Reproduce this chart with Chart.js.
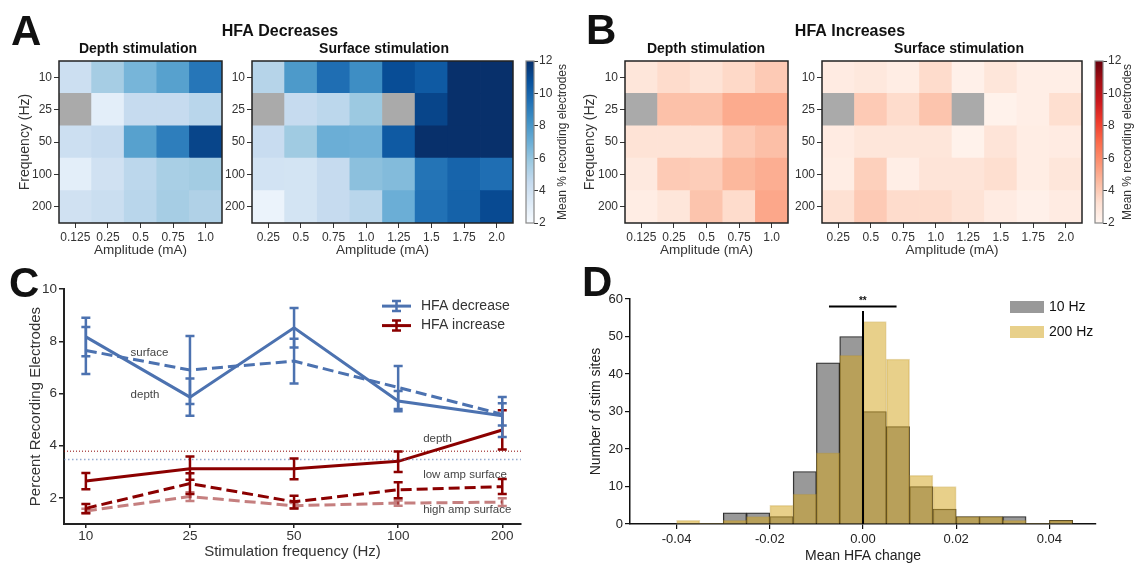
<!DOCTYPE html>
<html>
<head>
<meta charset="utf-8">
<script src="https://cdn.jsdelivr.net/npm/chart.js@4.4.0/dist/chart.umd.min.js"></script>
<style>
html, body { margin: 0; padding: 0; background: #fff; overflow: hidden; }
#fig { position: relative; width: 1135px; height: 565px; }
#fig canvas { position: absolute; }
</style>
</head>
<body>
<div id="fig"><canvas id="texts" width="1135" height="565" style="left:0;top:0"></canvas></div>
<script>
// ---- heatmaps (rows = frequency, cols = amplitude), null = no data
const freqs = ['10', '25', '50', '100', '200'];
const depthAmps = ['0.125', '0.25', '0.5', '0.75', '1.0'];
const surfAmps = ['0.25', '0.5', '0.75', '1.0', '1.25', '1.5', '1.75', '2.0'];

const decDepth = [
    [4.2, 5.5, 6.7, 7.6, 9.3],
    [null, 3.0, 4.5, 4.5, 4.9],
    [4.2, 4.5, 7.6, 9.0, 11.2],
    [3.0, 4.0, 4.8, 5.4, 5.6],
    [4.0, 4.3, 4.9, 5.5, 5.2]
];
const decSurf = [
    [5.0, 7.9, 9.6, 8.4, 10.9, 10.4, 12, 12],
    [null, 4.5, 4.8, 5.8, null, 11.2, 12, 12],
    [4.4, 5.7, 7.0, 6.9, 10.4, 12, 12, 12],
    [3.9, 3.8, 4.5, 6.2, 6.4, 9.4, 10.0, 9.6],
    [2.6, 3.8, 4.5, 4.9, 7.0, 9.5, 10.1, 11.0]
];
const incDepth = [
    [2.9, 3.4, 3.1, 3.5, 4.0],
    [null, 4.3, 4.3, 5.0, 5.0],
    [3.1, 3.1, 3.1, 4.0, 4.35],
    [2.7, 4.0, 3.9, 4.6, 4.9],
    [2.5, 2.9, 4.2, 3.4, 5.1]
];
const incSurf = [
    [2.6, 2.8, 2.5, 3.4, 2.3, 2.9, 2.4, 2.4],
    [null, 4.0, 3.4, 4.2, null, 2.2, 2.4, 3.3],
    [2.6, 2.9, 2.9, 2.9, 2.2, 3.0, 2.5, 2.6],
    [2.5, 3.8, 2.4, 3.0, 3.0, 3.3, 2.5, 2.9],
    [3.2, 4.0, 3.4, 3.4, 3.1, 2.6, 2.3, 2.6]
];
const cbMin = 2, cbMax = 12;
const cbTicks = [2, 4, 6, 8, 10, 12];

// ---- panel C: percent recording electrodes vs stim frequency
const freqTicks = ['10', '25', '50', '100', '200'];
const decDepthMean = [8.17, 5.86, 8.52, 5.71, 5.15];
const decDepthLo = [7.43, 5.15, 7.76, 5.32, 4.33];
const decDepthHi = [8.90, 6.57, 9.28, 6.10, 5.87];
const decSurfMean = [7.65, 6.90, 7.24, 6.23, 5.20];
const decSurfLo = [6.75, 5.60, 6.38, 5.41, 4.77];
const decSurfHi = [8.55, 8.20, 8.10, 7.05, 5.63];
const incDepthMean = [2.65, 3.12, 3.12, 3.40, 4.60];
const incDepthLo = [2.33, 2.70, 2.71, 2.99, 3.85];
const incDepthHi = [2.95, 3.59, 3.51, 3.78, 5.36];
const incLowMean = [1.60, 2.55, 1.85, 2.31, 2.43];
const incLowLo = [1.41, 2.15, 1.59, 1.99, 2.15];
const incLowHi = [1.77, 2.94, 2.08, 2.60, 2.72];
const incHighMean = [1.50, 2.05, 1.70, 1.80, 1.84];
const incHighLo = [1.42, 1.88, 1.60, 1.70, 1.69];
const incHighHi = [1.58, 2.22, 1.80, 1.90, 1.99];
const incBaseline = 3.79;
const decBaseline = 3.47;
const cYTicks = [2, 4, 6, 8, 10];

// ---- panel D: histogram of mean HFA change
const binLeft = [-0.04, -0.035, -0.03, -0.025, -0.02, -0.015, -0.01, -0.005, 0, 0.005, 0.01, 0.015, 0.02, 0.025, 0.03, 0.035, 0.04];
const binWidth = 0.005;
const count10 = [0, 0, 3, 3, 2, 14, 43, 50, 30, 26, 10, 4, 2, 2, 2, 0, 1];
const count200 = [1, 0, 1, 2, 5, 8, 19, 45, 54, 44, 13, 10, 2, 2, 1, 0, 1];
const dXTicks = [-0.04, -0.02, 0, 0.02, 0.04];
const dXLabels = ['-0.04', '-0.02', '0.00', '0.02', '0.04'];
const dYTicks = [0, 10, 20, 30, 40, 50, 60];
const zeroLineTop = 56.8;
const sigFrom = -0.0073, sigTo = 0.0072, sigY = 58;

const FONT = "'Liberation Sans', Arial, sans-serif";
Chart.defaults.font.family = FONT;
Chart.defaults.color = '#333';
Chart.defaults.animation = false;
Chart.defaults.plugins.legend.display = false;
Chart.defaults.plugins.tooltip.enabled = false;

const BLUES = [[247,251,255],[222,235,247],[198,219,239],[158,202,225],[107,174,214],[66,146,198],[33,113,181],[8,81,156],[8,48,107]];
const REDS = [[255,245,240],[254,224,210],[252,187,161],[252,146,114],[251,106,74],[239,59,44],[203,24,29],[165,15,21],[103,0,13]];
const NAN_COLOR = '#aaaaaa';

function cmapColor(stops, v) {
    const t = Math.min(1, Math.max(0, (v - cbMin) / (cbMax - cbMin))) * (stops.length - 1);
    const i = Math.min(Math.floor(t), stops.length - 2);
    const f = t - i;
    const c = stops[i].map((a, k) => Math.round(a + (stops[i + 1][k] - a) * f));
    return `rgb(${c.join(',')})`;
}

const fig = document.getElementById('fig');
function makeCanvas(left, top, w, h) {
    const c = document.createElement('canvas');
    c.width = w; c.height = h;
    c.style.left = left + 'px'; c.style.top = top + 'px';
    fig.appendChild(c);
    return c;
}

function framePlugin(color, width) {
    return {
        id: 'frame',
        afterDatasetsDraw(chart) {
            const { ctx, chartArea: a } = chart;
            ctx.save();
            ctx.strokeStyle = color; ctx.lineWidth = width;
            ctx.strokeRect(a.left, a.top, a.right - a.left, a.bottom - a.top);
            ctx.restore();
        }
    };
}

function heatmap(plot, yw, grid, amps, stops, yTitle) {
    const padT = 10, padR = 6, xh = 35;
    const canvas = makeCanvas(plot.l - yw, plot.t - padT, yw + plot.w + padR, padT + plot.h + xh);
    const datasets = [];
    for (let r = freqs.length - 1; r >= 0; r--) {
        datasets.push({
            data: amps.map(() => 1),
            backgroundColor: grid[r].map(v => v === null ? NAN_COLOR : cmapColor(stops, v)),
            borderWidth: 0,
            barPercentage: 1,
            categoryPercentage: 1
        });
    }
    new Chart(canvas, {
        type: 'bar',
        data: { labels: amps, datasets },
        options: {
            responsive: false,
            layout: { padding: { top: padT, right: padR, left: 0, bottom: 0 } },
            scales: {
                x: {
                    stacked: true,
                    offset: true,
                    grid: { offset: false, drawOnChartArea: false, tickLength: 5, color: '#333' },
                    border: { display: false },
                    ticks: { font: { size: 12 }, color: '#333', padding: 2, maxRotation: 0, autoSkip: false },
                    title: { display: true, text: 'Amplitude (mA)', font: { size: 13.5 }, color: '#333', padding: 0 },
                    afterFit: s => { s.height = xh; }
                },
                y: {
                    stacked: true,
                    min: 0, max: freqs.length,
                    afterBuildTicks: s => { s.ticks = freqs.map((_, i) => ({ value: i + 0.5 })); },
                    grid: { drawOnChartArea: false, tickLength: 5, color: '#333' },
                    border: { display: false },
                    ticks: { font: { size: 12 }, color: '#333', padding: 2, callback: v => freqs[Math.round(freqs.length - 0.5 - v)] },
                    title: { display: yTitle, text: 'Frequency (Hz)', font: { size: 14 }, color: '#333', padding: 0 },
                    afterFit: s => { s.width = yw; }
                }
            }
        },
        plugins: [framePlugin('#222', 1.5)]
    });
}

function colorbar(plot, stops) {
    const padT = 10, padL = 2, aw = 30;
    const canvas = makeCanvas(plot.l - padL, plot.t - padT, padL + plot.w + aw, padT + plot.h + 10);
    new Chart(canvas, {
        type: 'bar',
        data: {
            labels: [''],
            datasets: [{
                data: [[cbMin, cbMax]],
                barPercentage: 1, categoryPercentage: 1, borderWidth: 0,
                backgroundColor: ctx => {
                    const ch = ctx.chart;
                    if (!ch.chartArea) return stops[0];
                    const y = ch.scales.y;
                    const g = ch.ctx.createLinearGradient(0, y.getPixelForValue(cbMin), 0, y.getPixelForValue(cbMax));
                    stops.forEach((c, i) => g.addColorStop(i / (stops.length - 1), `rgb(${c.join(',')})`));
                    return g;
                }
            }]
        },
        options: {
            responsive: false,
            layout: { padding: { top: padT, left: padL, right: 0, bottom: 10 } },
            scales: {
                x: { display: false, offset: true },
                y: {
                    position: 'right', min: cbMin, max: cbMax,
                    afterBuildTicks: s => { s.ticks = cbTicks.map(v => ({ value: v })); },
                    grid: { drawOnChartArea: false, tickLength: 4, color: '#333' },
                    border: { display: false },
                    ticks: { font: { size: 12 }, color: '#333', padding: 1 },
                    afterFit: s => { s.width = aw; }
                }
            }
        },
        plugins: [framePlugin('#888', 1.2)]
    });
}

heatmap({ l: 59, t: 61, w: 163, h: 162 }, 42, decDepth, depthAmps, BLUES, true);
heatmap({ l: 252, t: 61, w: 261, h: 162 }, 30, decSurf, surfAmps, BLUES, false);
colorbar({ l: 526, t: 61, w: 8, h: 162 }, BLUES);
heatmap({ l: 625, t: 61, w: 163, h: 162 }, 43, incDepth, depthAmps, REDS, true);
heatmap({ l: 822, t: 61, w: 260, h: 162 }, 30, incSurf, surfAmps, REDS, false);
colorbar({ l: 1095, t: 61, w: 8, h: 162 }, REDS);

// ---- panel C
const BLUE = '#4c72b0', DARKRED = '#8b0000', LIGHTRED = 'rgba(139,0,0,0.5)';
const pts = arr => arr.map((y, i) => ({ x: i, y }));
const cAnnotations = [
    { text: 'surface', x: 0.43, y: 7.54 },
    { text: 'depth', x: 0.43, y: 5.94 },
    { text: 'depth', x: 3.24, y: 4.25 },
    { text: 'low amp surface', x: 3.24, y: 2.90 },
    { text: 'high amp surface', x: 3.24, y: 1.56 }
];
const cLegend = [{ label: 'HFA decrease', color: BLUE }, { label: 'HFA increase', color: DARKRED }];

const errorBars = {
    id: 'errorBars',
    afterDatasetsDraw(chart) {
        const { ctx, scales: { x, y } } = chart;
        chart.data.datasets.forEach(ds => {
            if (!ds.errLo) return;
            ctx.save();
            ctx.strokeStyle = ds.borderColor; ctx.lineWidth = 2.5;
            ds.errLo.forEach((lo, j) => {
                const px = x.getPixelForValue(j);
                const p1 = y.getPixelForValue(lo), p2 = y.getPixelForValue(ds.errHi[j]);
                ctx.beginPath();
                ctx.moveTo(px, p1); ctx.lineTo(px, p2);
                ctx.moveTo(px - 4.5, p1); ctx.lineTo(px + 4.5, p1);
                ctx.moveTo(px - 4.5, p2); ctx.lineTo(px + 4.5, p2);
                ctx.stroke();
            });
            ctx.restore();
        });
    }
};
const cExtras = {
    id: 'cExtras',
    afterDraw(chart) {
        const { ctx, chartArea: a, scales: { x, y } } = chart;
        ctx.save();
        ctx.font = `11.5px ${FONT}`; ctx.fillStyle = '#444'; ctx.textBaseline = 'middle';
        cAnnotations.forEach(n => ctx.fillText(n.text, x.getPixelForValue(n.x), y.getPixelForValue(n.y)));
        ctx.font = `14px ${FONT}`; ctx.fillStyle = '#333';
        cLegend.forEach((it, i) => {
            const gx = a.right - 139, gy = a.top + 17 + i * 19.5;
            ctx.strokeStyle = it.color; ctx.lineWidth = 3;
            ctx.beginPath(); ctx.moveTo(gx, gy); ctx.lineTo(gx + 29, gy); ctx.stroke();
            ctx.lineWidth = 2.5;
            ctx.beginPath(); ctx.moveTo(gx + 14.5, gy - 5); ctx.lineTo(gx + 14.5, gy + 5);
            ctx.moveTo(gx + 10, gy - 5); ctx.lineTo(gx + 19, gy - 5);
            ctx.moveTo(gx + 10, gy + 5); ctx.lineTo(gx + 19, gy + 5); ctx.stroke();
            ctx.fillText(it.label, gx + 39, gy);
        });
        ctx.restore();
    }
};

const cPlot = { l: 64, t: 289, w: 457, h: 235 };
const cCanvas = makeCanvas(cPlot.l - 37, cPlot.t - 10, 37 + cPlot.w + 10, 10 + cPlot.h + 37);
const xMin = -0.21, xMax = 4.18;
new Chart(cCanvas, {
    type: 'line',
    data: {
        datasets: [
            { data: [{ x: xMin, y: incBaseline }, { x: xMax, y: incBaseline }], borderColor: DARKRED, borderWidth: 1, borderDash: [1, 2] },
            { data: [{ x: xMin, y: decBaseline }, { x: xMax, y: decBaseline }], borderColor: 'rgba(76,114,176,0.6)', borderWidth: 1.5, borderDash: [1.5, 2.5] },
            { data: pts(incHighMean), borderColor: LIGHTRED, borderWidth: 3, borderDash: [11, 5], errLo: incHighLo, errHi: incHighHi },
            { data: pts(incLowMean), borderColor: DARKRED, borderWidth: 3, borderDash: [11, 5], errLo: incLowLo, errHi: incLowHi },
            { data: pts(incDepthMean), borderColor: DARKRED, borderWidth: 3, errLo: incDepthLo, errHi: incDepthHi },
            { data: pts(decSurfMean), borderColor: BLUE, borderWidth: 3, borderDash: [11, 5], errLo: decSurfLo, errHi: decSurfHi },
            { data: pts(decDepthMean), borderColor: BLUE, borderWidth: 3, errLo: decDepthLo, errHi: decDepthHi }
        ]
    },
    options: {
        responsive: false,
        elements: { point: { radius: 0 }, line: { tension: 0 } },
        layout: { padding: { top: 10, right: 10, left: 0, bottom: 0 } },
        scales: {
            x: {
                type: 'linear', min: xMin, max: xMax,
                afterBuildTicks: s => { s.ticks = freqTicks.map((_, i) => ({ value: i })); },
                ticks: { callback: v => freqTicks[v], font: { size: 13.5 }, color: '#333', padding: 0, maxRotation: 0 },
                grid: { drawOnChartArea: false, tickLength: 4, color: '#222', lineWidth: 1.5 },
                border: { color: '#222', width: 2 },
                title: { display: true, text: 'Stimulation frequency (Hz)', font: { size: 15 }, color: '#333', padding: 0 },
                afterFit: s => { s.height = 37; }
            },
            y: {
                min: 1, max: 10,
                afterBuildTicks: s => { s.ticks = cYTicks.map(v => ({ value: v })); },
                ticks: { font: { size: 13.5 }, color: '#333', padding: 2 },
                grid: { drawOnChartArea: false, tickLength: 5, color: '#222', lineWidth: 1.5 },
                border: { color: '#222', width: 2 },
                title: { display: true, text: 'Percent Recording Electrodes', font: { size: 15 }, color: '#333', padding: 0 },
                afterFit: s => { s.width = 37; }
            }
        }
    },
    plugins: [errorBars, cExtras]
});

// ---- panel D
const dExtras = {
    id: 'dExtras',
    afterDraw(chart) {
        const { ctx, chartArea: a, scales: { x, y } } = chart;
        ctx.save();
        ctx.font = `bold 10px ${FONT}`; ctx.fillStyle = '#111'; ctx.textAlign = 'center';
        ctx.fillText('**', x.getPixelForValue((sigFrom + sigTo) / 2), y.getPixelForValue(sigY) - 3);
        ctx.textAlign = 'left'; ctx.textBaseline = 'middle'; ctx.font = `14px ${FONT}`;
        [chart.data.datasets[1], chart.data.datasets[0]].forEach((ds, i) => {
            const px = a.right - 86, py = a.top + 2 + i * 25;
            ctx.fillStyle = ds.backgroundColor;
            ctx.fillRect(px, py, 34, 12);
            ctx.fillStyle = '#111';
            ctx.fillText(ds.label, px + 39, py + 6.5);
        });
        ctx.restore();
    }
};
const bars = counts => counts.map((c, i) => ({ x: binLeft[i] + binWidth / 2, y: c }));
const dPlot = { l: 630, t: 299, w: 466, h: 225 };
const dCanvas = makeCanvas(dPlot.l - 42, dPlot.t - 10, 42 + dPlot.w + 10, 10 + dPlot.h + 41);
new Chart(dCanvas, {
    type: 'bar',
    data: {
        datasets: [
            { label: '200 Hz', data: bars(count200), backgroundColor: 'rgba(212,166,34,0.53)', borderColor: 'rgba(190,150,40,0.35)',
              borderWidth: c => (c.raw && c.raw.y ? 1 : 0), grouped: false, barPercentage: 1, categoryPercentage: 1, order: 1 },
            { label: '10 Hz', data: bars(count10), backgroundColor: 'rgba(128,128,128,0.8)', borderColor: 'rgba(0,0,0,0.85)',
              borderWidth: c => (c.raw && c.raw.y ? 1 : 0), grouped: false, barPercentage: 1, categoryPercentage: 1, order: 2 },
            { type: 'line', data: [{ x: 0, y: 0 }, { x: 0, y: zeroLineTop }], borderColor: '#000', borderWidth: 2, pointRadius: 0, order: 0 },
            { type: 'line', data: [{ x: sigFrom, y: sigY }, { x: sigTo, y: sigY }], borderColor: '#000', borderWidth: 2, pointRadius: 0, order: 0 }
        ]
    },
    options: {
        responsive: false,
        layout: { padding: { top: 10, right: 10, left: 0, bottom: 0 } },
        scales: {
            x: {
                type: 'linear', min: -0.05, max: 0.05, offset: false,
                afterBuildTicks: s => { s.ticks = dXTicks.map(v => ({ value: v })); },
                ticks: { callback: (v, i) => dXLabels[i], font: { size: 13 }, color: '#222', padding: 3, maxRotation: 0 },
                grid: { drawOnChartArea: false, tickLength: 5, color: '#111', lineWidth: 1.2, offset: false },
                border: { color: '#111', width: 1.5 },
                title: { display: true, text: 'Mean HFA change', font: { size: 14 }, color: '#222', padding: 0 },
                afterFit: s => { s.height = 41; }
            },
            y: {
                min: 0, max: 60,
                afterBuildTicks: s => { s.ticks = dYTicks.map(v => ({ value: v })); },
                ticks: { font: { size: 13 }, color: '#222', padding: 2 },
                grid: { drawOnChartArea: false, tickLength: 5, color: '#111', lineWidth: 1.2 },
                border: { color: '#111', width: 1.5 },
                title: { display: true, text: 'Number of stim sites', font: { size: 14 }, color: '#222', padding: 0 },
                afterFit: s => { s.width = 42; }
            }
        }
    },
    plugins: [dExtras]
});

// ---- free text: panel letters, titles, colorbar labels
const tctx = document.getElementById('texts').getContext('2d');
function text(str, x, y, font, align, color, rot) {
    tctx.save();
    tctx.font = font; tctx.fillStyle = color || '#111'; tctx.textAlign = align || 'left';
    tctx.translate(x, y);
    if (rot) { tctx.rotate(rot); tctx.textBaseline = 'middle'; }
    tctx.fillText(str, 0, 0);
    tctx.restore();
}
const big = `bold 42px ${FONT}`, sup = `bold 16px ${FONT}`, sub = `bold 14px ${FONT}`;
text('A', 11, 45, big);
text('B', 586, 44, big);
text('C', 9, 297, big);
text('D', 582, 296, big);
text('HFA Decreases', 280, 36, sup, 'center');
text('HFA Increases', 850, 36, sup, 'center');
text('Depth stimulation', 138, 53, sub, 'center');
text('Surface stimulation', 384, 53, sub, 'center');
text('Depth stimulation', 706, 53, sub, 'center');
text('Surface stimulation', 959, 53, sub, 'center');
text('Mean % recording electrodes', 563, 142, `12px ${FONT}`, 'center', '#333', -Math.PI / 2);
text('Mean % recording electrodes', 1128, 142, `12px ${FONT}`, 'center', '#333', -Math.PI / 2);
</script>
</body>
</html>
